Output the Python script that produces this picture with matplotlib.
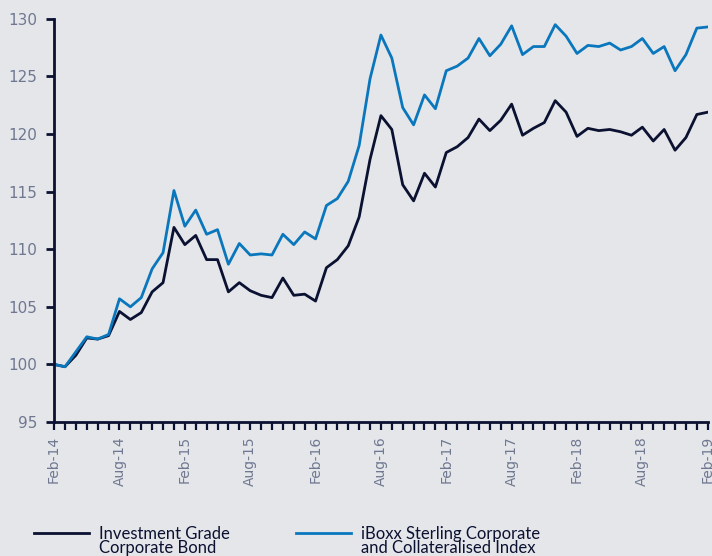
import matplotlib
matplotlib.use("Agg")
from matplotlib import pyplot as plt
from matplotlib.legend_handler import HandlerLine2D
import pandas as pd

# monthly index values, Feb-14 .. Feb-19
months = pd.date_range("2014-02-01", "2019-02-01", freq="MS")

ig_bond = [100.0, 99.8, 100.8, 102.3, 102.2, 102.5, 104.6, 103.9, 104.5, 106.3,
           107.1, 111.9, 110.4, 111.2, 109.1, 109.1, 106.3, 107.1, 106.4, 106.0,
           105.8, 107.5, 106.0, 106.1, 105.5, 108.4, 109.1, 110.3, 112.8, 117.8,
           121.6, 120.4, 115.6, 114.2, 116.6, 115.4, 118.4, 118.9, 119.7, 121.3,
           120.3, 121.2, 122.6, 119.9, 120.5, 121.0, 122.9, 121.9, 119.8, 120.5,
           120.3, 120.4, 120.2, 119.9, 120.6, 119.4, 120.4, 118.6, 119.7, 121.7,
           121.9]

iboxx = [100.0, 99.8, 101.1, 102.4, 102.2, 102.6, 105.7, 105.0, 105.8, 108.3,
         109.7, 115.1, 112.0, 113.4, 111.3, 111.7, 108.7, 110.5, 109.5, 109.6,
         109.5, 111.3, 110.4, 111.5, 110.9, 113.8, 114.4, 115.9, 119.0, 124.8,
         128.6, 126.6, 122.3, 120.8, 123.4, 122.2, 125.5, 125.9, 126.6, 128.3,
         126.8, 127.8, 129.4, 126.9, 127.6, 127.6, 129.5, 128.5, 127.0, 127.7,
         127.6, 127.9, 127.3, 127.6, 128.3, 127.0, 127.6, 125.5, 126.9, 129.2,
         129.3]

labels = ["Investment Grade\nCorporate Bond",
          "iBoxx Sterling Corporate\nand Collateralised Index"]
y_ticks = [95, 100, 105, 110, 115, 120, 125, 130]

bg = "#e4e6ea"
navy = "#0b1130"
blue = "#0a77bd"
grey = "#6f7890"


# legend line sits level with the first text line, not the middle
class FirstLineHandler(HandlerLine2D):
    def create_artists(self, *args, **kwargs):
        arts = super().create_artists(*args, **kwargs)
        for a in arts:
            a.set_ydata([y + 6 for y in a.get_ydata()])
        return arts


fig = plt.figure(figsize=(7.12, 5.56), dpi=100, facecolor=bg)
ax = fig.add_axes([0.076, 0.241, 0.918, 0.725], facecolor=bg)

x = list(range(len(months)))
l1, = ax.plot(x, ig_bond, color=navy, lw=2.0, label=labels[0])
l2, = ax.plot(x, iboxx, color=blue, lw=2.0, label=labels[1])

ax.set_xlim(0, len(months) - 1)
ax.set_ylim(95, 130)

for s in ["top", "right"]:
    ax.spines[s].set_visible(False)
for s in ["left", "bottom"]:
    ax.spines[s].set_color(navy)
    ax.spines[s].set_linewidth(2.0)

ax.set_yticks(y_ticks)
ax.tick_params(axis="y", length=6, width=2, color=navy, labelcolor=grey,
               labelsize=11, pad=6)

# every month gets a tick, every 6th month a label
ax.set_xticks(x)
ax.set_xticklabels([m.strftime("%b-%y") if i % 6 == 0 else ""
                    for i, m in enumerate(months)], rotation=90)
ax.tick_params(axis="x", length=6, width=1.6, color=navy, labelcolor=grey,
               labelsize=10, pad=4)

leg = fig.legend(loc="lower left", bbox_to_anchor=(0.026, -0.027), ncol=2,
                 frameon=False, handlelength=3.3, handletextpad=0.6,
                 columnspacing=4.0, labelspacing=0,
                 handler_map={l1: FirstLineHandler(), l2: FirstLineHandler()},
                 prop={"family": ["Lato", "DejaVu Sans"], "size": 12})
for t in leg.get_texts():
    t.set_color(navy)
    t.set_linespacing(0.85)

fig.savefig("out.png", dpi=100, facecolor=bg)
